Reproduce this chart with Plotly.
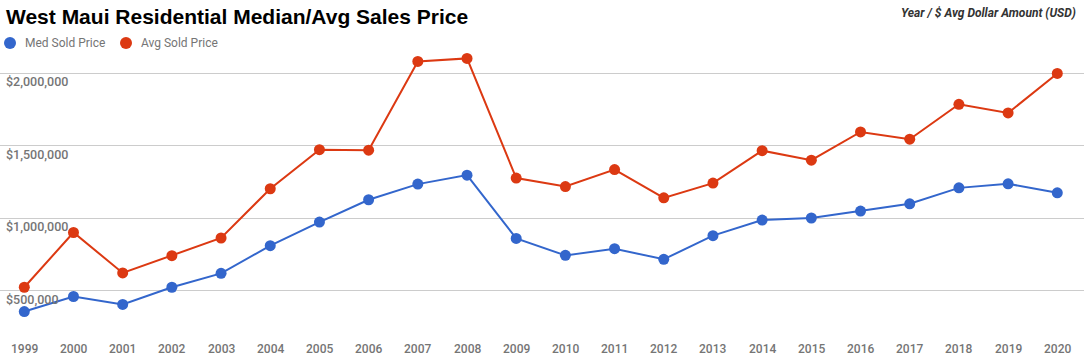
import plotly.graph_objects as go

years = list(range(1999, 2021))
med_price = [355000, 459000, 404000, 523000, 619000, 810000, 973000, 1127000, 1235000, 1297000,
             860000, 743000, 789000, 716000, 879000, 987000, 1001000, 1049000, 1099000, 1209000,
             1237000, 1175000]
avg_price = [523000, 901000, 622000, 741000, 863000, 1203000, 1473000, 1469000, 2082000, 2103000,
             1277000, 1218000, 1335000, 1140000, 1242000, 1466000, 1400000, 1595000, 1545000, 1786000,
             1726000, 1999000]
series_names = ["Med Sold Price", "Avg Sold Price"]
series_colors = ["#3366cc", "#dc3912"]
y_ticks = [0, 500000, 1000000, 1500000, 2000000, 2500000]
y_labels = ["", "$500,000", "$1,000,000", "$1,500,000", "$2,000,000", ""]
title = "West Maui Residential Median/Avg Sales Price"
axis_note = "Year / $ Avg Dollar Amount (USD)"

fig = go.Figure()
for name, vals, col in zip(series_names, [med_price, avg_price], series_colors):
    fig.add_trace(go.Scatter(x=years, y=vals, name=name, mode="lines+markers",
                             line=dict(color=col, width=2),
                             marker=dict(color=col, size=11),
                             showlegend=False, hoverinfo="x+y"))

tick_font = dict(family="Roboto", size=12, color="#757575", weight=500)

fig.update_layout(
    width=1084, height=363,
    margin=dict(l=0, r=0, t=0, b=0),
    paper_bgcolor="white", plot_bgcolor="white",
    xaxis=dict(range=[1998.506, 2020.543], showticklabels=False, ticks="", showgrid=False,
               zeroline=False, showline=False),
    yaxis=dict(range=[0, 2506000], tickvals=y_ticks, ticktext=y_labels,
               ticklabelposition="inside bottom", ticks="", showgrid=True,
               gridcolor="#cccccc", gridwidth=1, zeroline=False, showline=False,
               tickfont=dict(family="Roboto", size=12.5, color="#757575", weight=500),
               ticklabelstandoff=3),
    showlegend=False,
)

# X labels (drawn inside the plot, like the original)
for yr in years:
    fig.add_annotation(text=str(yr), x=yr, xref="x", y=0, yref="paper", xanchor="center",
                       yanchor="middle", yshift=14, showarrow=False, font=tick_font)

# Title and axis note
fig.add_annotation(text=title, xref="paper", yref="paper", x=0, y=1, xanchor="left", yanchor="top",
                   xshift=4, yshift=-3, showarrow=False,
                   font=dict(family="Liberation Sans", size=21, color="#000000", weight="bold"))
fig.add_annotation(text="<i><b>" + axis_note + "</b></i>", xref="paper", yref="paper", x=1, y=1,
                   xanchor="right", yanchor="top", xshift=-6, yshift=-4, showarrow=False,
                   font=dict(family="Roboto", size=12, color="#333333"))

# Legend
legend_x = [10, 126]
for name, col, lx in zip(series_names, series_colors, legend_x):
    fig.add_shape(type="circle", xref="paper", yref="paper", xsizemode="pixel", ysizemode="pixel",
                  xanchor=0, yanchor=1, x0=lx - 6, x1=lx + 6, y0=-37, y1=-49,
                  fillcolor=col, line=dict(width=0))
    fig.add_annotation(text=name, xref="paper", yref="paper", x=0, y=1, xanchor="left",
                       yanchor="middle", xshift=lx + 13, yshift=-43, showarrow=False,
                       font=dict(family="Roboto", size=12, color="#757575"))

fig.write_html("out.html", config={"displayModeBar": False},
               post_script="document.body.style.margin='0';document.body.style.overflow='hidden';")
